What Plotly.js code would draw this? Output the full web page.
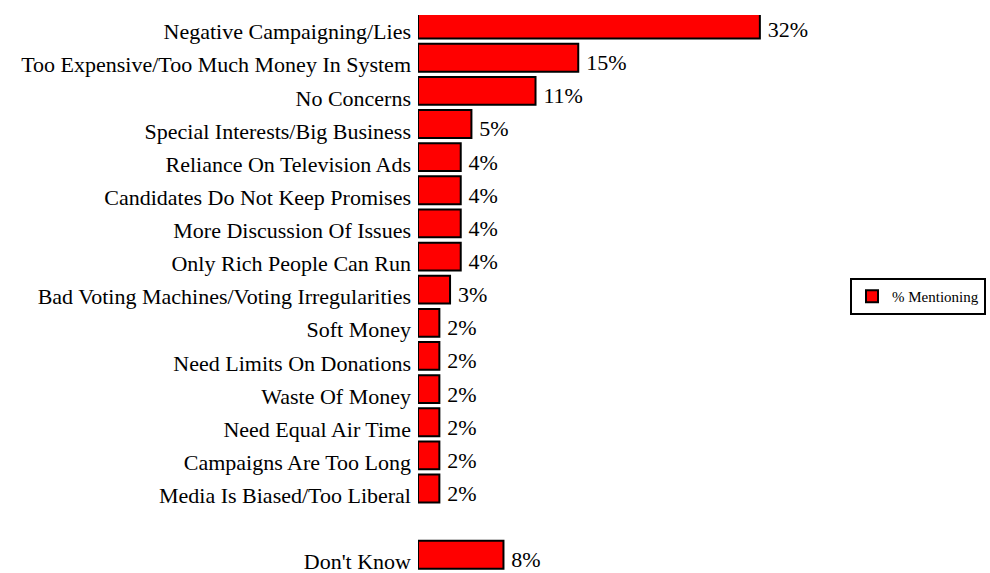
<!DOCTYPE html>
<html>
<head>
<meta charset="utf-8">
<script src="https://cdn.plot.ly/plotly-3.0.1.min.js"></script>
<style>html,body{margin:0;padding:0;background:#fff;}#chart{width:990px;height:573px;}</style>
</head>
<body>
<div id="chart"></div>
<script>
// Data
var categories = [
  "Negative Campaigning/Lies",
  "Too Expensive/Too Much Money In System",
  "No Concerns",
  "Special Interests/Big Business",
  "Reliance On Television Ads",
  "Candidates Do Not Keep Promises",
  "More Discussion Of Issues",
  "Only Rich People Can Run",
  "Bad Voting Machines/Voting Irregularities",
  "Soft Money",
  "Need Limits On Donations",
  "Waste Of Money",
  "Need Equal Air Time",
  "Campaigns Are Too Long",
  "Media Is Biased/Too Liberal",
  "Don't Know"
];
var values = [32, 15, 11, 5, 4, 4, 4, 4, 3, 2, 2, 2, 2, 2, 2, 8];
var seriesName = "% Mentioning";

// category order with a blank row before "Don't Know"
var catOrder = categories.slice(0, 15).concat(["\u00a0"]).concat(categories.slice(15));
var labels = values.map(function (v) { return v + "%"; });

var FONT = "Liberation Serif, Times New Roman, serif";

var traces = [
  {
    type: "bar",
    orientation: "h",
    name: seriesName,
    x: values,
    y: categories,
    width: 0.84,
    offset: -0.63,
    cliponaxis: false,
    marker: { color: "#ff0000", line: { color: "#000000", width: 2 } },
    hoverinfo: "x+y"
  },
  {
    type: "scatter",
    mode: "markers+text",
    x: values,
    y: categories,
    text: labels,
    textposition: "middle right",
    marker: { size: 11, opacity: 0 },
    textfont: { family: FONT, size: 22, color: "#000" },
    showlegend: false,
    hoverinfo: "skip",
    cliponaxis: false
  }
];

var layout = {
  width: 990,
  height: 573,
  margin: { l: 418, r: 150, t: 15, b: 3, pad: 0 },
  paper_bgcolor: "#ffffff",
  plot_bgcolor: "#ffffff",
  font: { family: FONT, size: 22, color: "#000" },
  showlegend: true,
  xaxis: {
    range: [0, 39.5],
    showgrid: false,
    zeroline: false,
    showline: false,
    showticklabels: false,
    ticks: ""
  },
  yaxis: {
    type: "category",
    categoryorder: "array",
    categoryarray: catOrder,
    range: [16.25, -0.5],
    showgrid: false,
    zeroline: false,
    showline: false,
    ticks: "",
    ticklabelstandoff: 6,
    tickfont: { family: FONT, size: 22, color: "#000" }
  },
  legend: {
    xref: "container",
    yref: "container",
    x: 850 / 990,
    y: 1 - 278 / 573,
    xanchor: "left",
    yanchor: "top",
    bgcolor: "#ffffff",
    bordercolor: "#000000",
    borderwidth: 2,
    itemwidth: 30,
    font: { family: FONT, size: 15, color: "#000" }
  },
  bargap: 0.16
};

Plotly.newPlot("chart", traces, layout, { displayModeBar: false, staticPlot: true });
</script>
</body>
</html>
